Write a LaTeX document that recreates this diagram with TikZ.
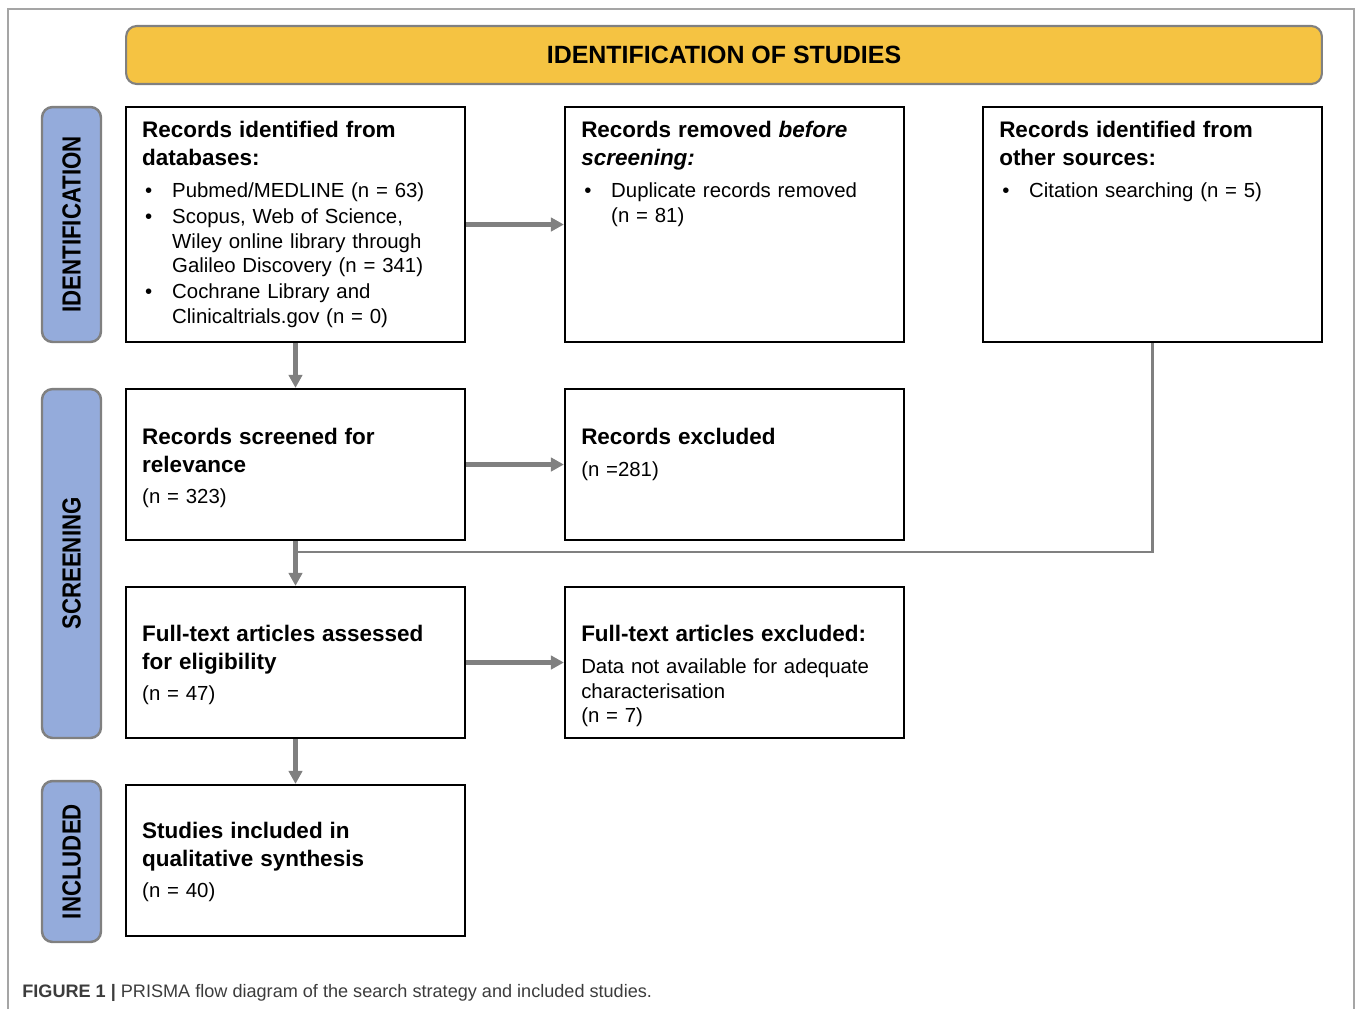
\documentclass[tikz,border=0pt]{standalone}
\usepackage{fontspec}
\setmainfont{Liberation Sans}
\newfontfamily\sidefont{Liberation Sans}[FakeStretch=0.85]
\usetikzlibrary{arrows.meta}

\definecolor{bannerfill}{RGB}{245,195,66}
\definecolor{stagefill}{RGB}{148,171,219}
\definecolor{edgegray}{RGB}{128,128,128}
\definecolor{framegray}{RGB}{165,165,165}
\definecolor{capgray}{RGB}{60,60,60}

\newcommand{\boxhead}{\fontsize{12.8pt}{15.6pt}\selectfont\bfseries}
\newcommand{\boxbody}{\fontsize{11.6pt}{14pt}\selectfont}
\newcommand{\bitem}{\par\vspace{0.6pt}\hangindent=0.6cm\hangafter=1\noindent\hspace*{0.06cm}\makebox[0.54cm][l]{\textbullet}}

\begin{document}
\begin{tikzpicture}[x=0.02cm, y=-0.02cm]
  \useasboundingbox (0,0) rectangle (1358,1009);
  \draw[framegray, line width=0.9pt] (8,1009) -- (8,9) -- (1354,9) -- (1354,1009);

  \node[draw=edgegray, line width=1.2pt, fill=bannerfill, rounded corners=6pt,
        minimum width=23.92cm, minimum height=1.16cm,
        font=\fontsize{14.2pt}{17pt}\selectfont\bfseries] (title) at (724,55) {IDENTIFICATION OF STUDIES};

  % stages
  \begin{scope}[every node/.style={draw=edgegray, line width=1.4pt, fill=stagefill, rounded corners=6pt,
                rotate=90, minimum height=1.18cm, font=\sidefont\fontsize{14.9pt}{17pt}\selectfont\bfseries}]
    \node[minimum width=4.7cm]  (ident)  at (71.5,224.5) {IDENTIFICATION};
    \node[minimum width=6.98cm] (screen) at (71.5,563.5) {SCREENING};
    \node[minimum width=3.22cm] (incl)   at (71.5,861.5) {INCLUDED};
  \end{scope}

  % boxes
  \begin{scope}[every node/.style={draw, line width=1.3pt, minimum width=6.78cm, minimum height=3.02cm}]
    \node[minimum height=4.7cm] (b1) at (295.5,224.5)  {};
    \node[minimum height=4.7cm] (b2) at (734.5,224.5)  {};
    \node[minimum height=4.7cm] (b3) at (1152.5,224.5) {};
    \node (b4) at (295.5,464.5) {};
    \node (b5) at (734.5,464.5) {};
    \node (b6) at (295.5,662.5) {};
    \node (b7) at (734.5,662.5) {};
    \node (b8) at (295.5,860.5) {};
  \end{scope}

  % box texts
  \begin{scope}[every node/.style={anchor=base west, text width=6.4cm, align=left, inner sep=0pt, font=\boxbody}]
    \node (t1) at ([shift={(17,32)}]b1.north west) {{\boxhead Records identified from\\ databases:\par}\vspace{4pt}
      \bitem Pubmed/MEDLINE (n = 63)
      \bitem Scopus, Web of Science,\newline Wiley online library through\newline Galileo Discovery (n = 341)
      \bitem Cochrane Library and\newline Clinicaltrials.gov (n = 0)\par};
    \node (t2) at ([shift={(17,32)}]b2.north west) {{\boxhead Records removed \textit{before}\\ \textit{screening:}\par}\vspace{4pt}
      \bitem Duplicate records removed\newline (n = 81)\par};
    \node (t3) at ([shift={(17,32)}]b3.north west) {{\boxhead Records identified from\\ other sources:\par}\vspace{4pt}
      \bitem Citation searching (n = 5)\par};
    \node (t4) at ([shift={(17,57)}]b4.north west) {{\boxhead Records screened for\\ relevance\par}\vspace{4pt}
      (n = 323)\par};
    \node (t5) at ([shift={(17,57)}]b5.north west) {{\boxhead Records excluded\par}\vspace{4pt}
      (n =281)\par};
    \node (t6) at ([shift={(17,56)}]b6.north west) {{\boxhead Full-text articles assessed\\ for eligibility\par}\vspace{4pt}
      (n = 47)\par};
    \node (t7) at ([shift={(17,56)}]b7.north west) {{\boxhead Full-text articles excluded:\par}\vspace{4pt}
      Data not available for adequate\\ characterisation\\ (n = 7)\par};
    \node (t8) at ([shift={(17,55)}]b8.north west) {{\boxhead Studies included in\\ qualitative synthesis\par}\vspace{4pt}
      (n = 40)\par};
  \end{scope}

  \coordinate (merge) at (295.5,552);
  \draw[edgegray, line width=1.4pt] (b3.south) |- (merge);

  \begin{scope}[every edge/.style={draw=edgegray, line width=2.3pt, -{Triangle[length=7.4pt, width=7.6pt]}}]
    \path (b1) edge (b2);
    \path (b1) edge (b4);
    \path (b4) edge (b5);
    \path (b4) edge (b6);
    \path (b6) edge (b7);
    \path (b6) edge (b8);
  \end{scope}

  \node[anchor=base west, inner sep=0pt, text=capgray, font=\fontsize{10.3pt}{12pt}\selectfont] (caption) at (22,997)
    {\textbf{FIGURE 1 |} PRISMA flow diagram of the search strategy and included studies.};
\end{tikzpicture}
\end{document}
